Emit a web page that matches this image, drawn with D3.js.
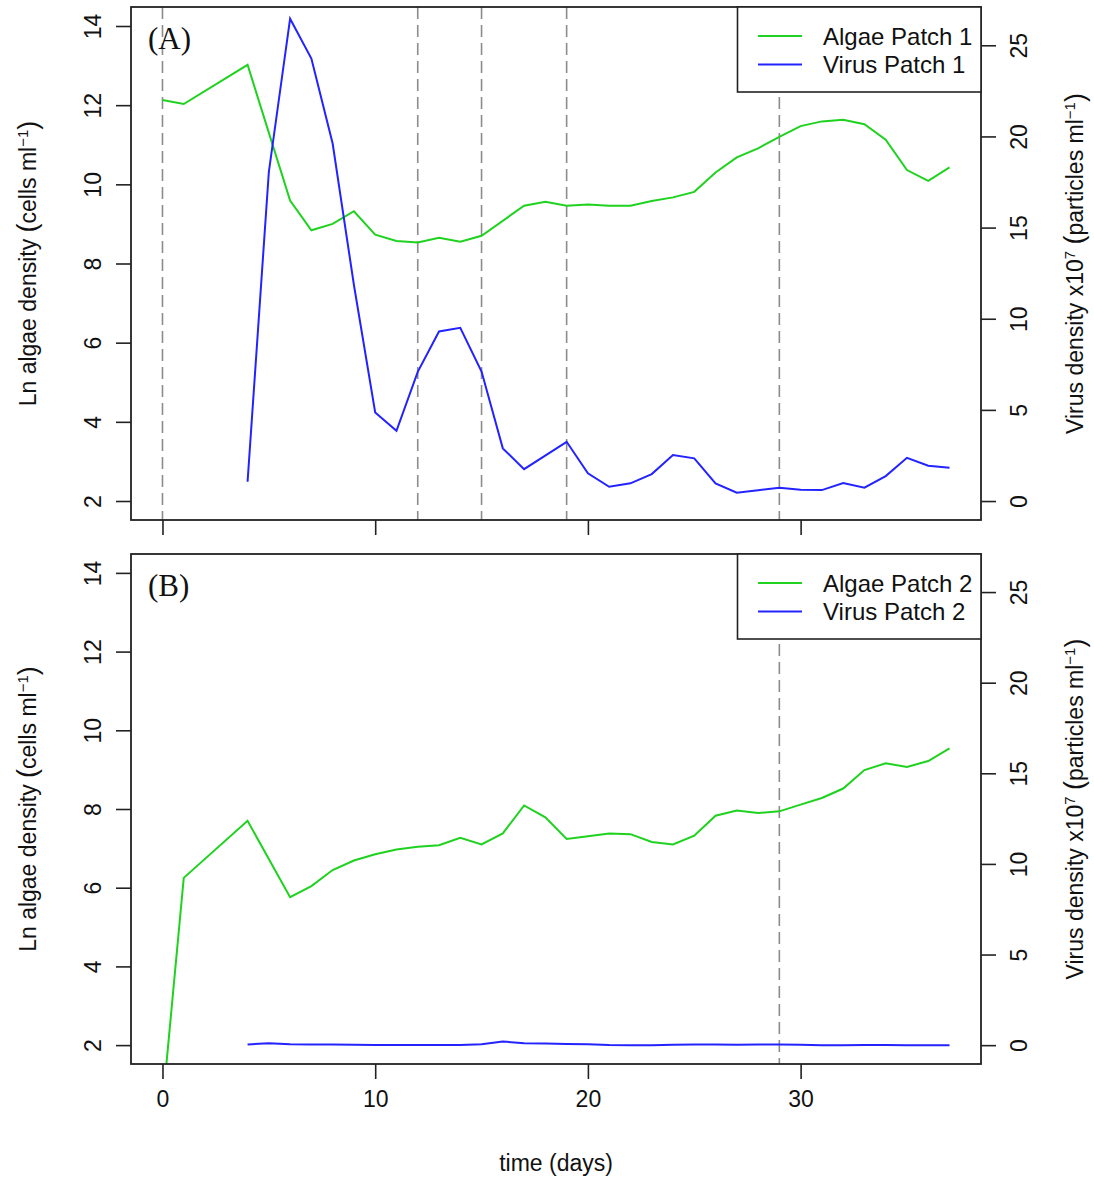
<!DOCTYPE html>
<html><head><meta charset="utf-8">
<script src="https://cdn.jsdelivr.net/npm/d3@7"></script>
<style>
body{margin:0;background:#fff}
svg{display:block}
text{font-family:"Liberation Sans",Arial,Helvetica,sans-serif;fill:#111}
</style>
</head><body>
<svg id="chart" width="1094" height="1182"></svg>
<script>
// ---------- data ----------
const xTicks = [0, 10, 20, 30];
const leftTicks = [2, 4, 6, 8, 10, 12, 14];
const rightTicks = [0, 5, 10, 15, 20, 25];

// Panel A (patch 1)
const algae1Days   = [0, 1, 4, 6, 7, 8, 9, 10, 11, 12, 13, 14, 15, 17, 18, 19, 20, 21, 22, 23, 24, 25, 26, 27, 28, 29, 30, 31, 32, 33, 34, 35, 36, 37];
const algae1Values = [12.13, 12.03, 13.02, 9.59, 8.84, 9.0, 9.32, 8.73, 8.57, 8.53, 8.65, 8.55, 8.70, 9.46, 9.56, 9.46, 9.49, 9.46, 9.46, 9.58, 9.67, 9.81, 10.30, 10.68, 10.91, 11.20, 11.47, 11.59, 11.63, 11.52, 11.13, 10.36, 10.09, 10.43];
const virus1Days   = [4, 5, 6, 7, 8, 9, 10, 11, 12, 13, 14, 15, 16, 17, 19, 20, 21, 22, 23, 24, 25, 26, 27, 28, 29, 30, 31, 32, 33, 34, 35, 36, 37];
const virus1Values = [1.06, 18.05, 26.46, 24.27, 19.61, 11.85, 4.86, 3.85, 7.09, 9.30, 9.50, 7.10, 2.89, 1.75, 3.25, 1.52, 0.78, 0.97, 1.48, 2.52, 2.34, 0.97, 0.46, 0.59, 0.73, 0.62, 0.60, 0.99, 0.73, 1.37, 2.37, 1.94, 1.83];

// Panel B (patch 2)
const algae2Days   = [0, 1, 4, 6, 7, 8, 9, 10, 11, 12, 13, 14, 15, 16, 17, 18, 19, 20, 21, 22, 23, 24, 25, 26, 27, 28, 29, 30, 31, 32, 33, 34, 35, 36, 37];
const algae2Values = [0.45, 6.25, 7.70, 5.76, 6.04, 6.45, 6.69, 6.85, 6.97, 7.04, 7.08, 7.27, 7.10, 7.38, 8.09, 7.79, 7.24, 7.31, 7.38, 7.36, 7.16, 7.10, 7.32, 7.83, 7.96, 7.90, 7.94, 8.11, 8.28, 8.52, 8.99, 9.16, 9.07, 9.22, 9.54];
const virus2Days   = [4, 5, 6, 7, 8, 9, 10, 11, 12, 13, 14, 15, 16, 17, 18, 19, 20, 21, 22, 23, 24, 25, 26, 27, 28, 29, 30, 31, 32, 33, 34, 35, 36, 37];
const virus2Values = [0.04, 0.11, 0.05, 0.03, 0.03, 0.02, 0.01, 0.01, 0.01, 0.01, 0.01, 0.05, 0.20, 0.11, 0.09, 0.06, 0.05, 0.01, 0.0, 0.0, 0.02, 0.03, 0.03, 0.02, 0.03, 0.04, 0.02, 0.0, 0.0, 0.01, 0.01, 0.0, 0.0, 0.0];

const eventsA = [0, 12, 15, 19, 29];
const eventsB = [29];
const legendA = ["Algae Patch 1", "Virus Patch 1"];
const legendB = ["Algae Patch 2", "Virus Patch 2"];
const panelLabels = ["(A)", "(B)"];

// ---------- drawing ----------
const svg = d3.select("#chart");
const L = 131, R = 981;
const GREEN = "#1fd21f", BLUE = "#2323ff";
const FS = 23;

const x = d3.scaleLinear().domain([-1.48, 38.48]).range([L, R]);

function zip(days, vals){ return days.map((d,i)=>({d, v: vals[i]})); }

function panel(idx, top, bottom, algae, virus, events, legendText, showXLabels){
  const yL = d3.scaleLinear().domain([1.52, 14.48]).range([bottom, top]);
  const yR = d3.scaleLinear().domain([-1.04, 27.1]).range([bottom, top]);
  const g = svg.append("g");

  const clipId = "clip" + idx;
  g.append("clipPath").attr("id", clipId).append("rect")
    .attr("x", L).attr("y", top).attr("width", R - L).attr("height", bottom - top);

  const plot = g.append("g").attr("clip-path", `url(#${clipId})`);

  // event lines
  plot.selectAll("line.ev").data(events).enter().append("line")
    .attr("x1", d => x(d)).attr("x2", d => x(d))
    .attr("y1", top).attr("y2", bottom)
    .attr("stroke", "#8c8c8c").attr("stroke-width", 1.6)
    .attr("stroke-dasharray", "12,6");

  plot.append("path").datum(algae)
    .attr("fill", "none").attr("stroke", GREEN).attr("stroke-width", 2)
    .attr("stroke-linejoin", "miter")
    .attr("d", d3.line().x(p => x(p.d)).y(p => yL(p.v)));

  plot.append("path").datum(virus)
    .attr("fill", "none").attr("stroke", BLUE).attr("stroke-width", 2)
    .attr("d", d3.line().x(p => x(p.d)).y(p => yR(p.v)));

  // left axis
  const ax = g.append("g").attr("transform", `translate(${L},0)`)
    .call(d3.axisLeft(yL).tickValues(leftTicks).tickSize(15).tickSizeOuter(0));
  ax.select(".domain").remove();
  ax.selectAll(".tick line").attr("stroke", "#222").attr("stroke-width", 1.6);
  ax.selectAll(".tick text")
    .attr("x", 0).attr("y", -38).attr("dy", "0.36em")
    .attr("transform", "rotate(-90)").attr("text-anchor", "middle")
    .style("font-size", FS + "px").style("font-family", "'Liberation Sans',Arial,sans-serif").attr("fill", "#111");

  // right axis
  const ar = g.append("g").attr("transform", `translate(${R},0)`)
    .call(d3.axisRight(yR).tickValues(rightTicks).tickSize(15).tickSizeOuter(0));
  ar.select(".domain").remove();
  ar.selectAll(".tick line").attr("stroke", "#222").attr("stroke-width", 1.6);
  ar.selectAll(".tick text")
    .attr("x", 0).attr("y", 38).attr("dy", "0.36em")
    .attr("transform", "rotate(-90)").attr("text-anchor", "middle")
    .style("font-size", FS + "px").style("font-family", "'Liberation Sans',Arial,sans-serif").attr("fill", "#111");

  // bottom axis
  const ab = g.append("g").attr("transform", `translate(0,${bottom})`)
    .call(d3.axisBottom(x).tickValues(xTicks).tickSize(15).tickSizeOuter(0).tickPadding(12)
      .tickFormat(showXLabels ? d3.format("d") : () => ""));
  ab.select(".domain").remove();
  ab.selectAll(".tick line").attr("stroke", "#222").attr("stroke-width", 1.6);
  ab.selectAll(".tick text").style("font-size", FS + "px")
    .style("font-family", "'Liberation Sans',Arial,sans-serif").attr("fill", "#111");

  // frame
  g.append("rect").attr("x", L).attr("y", top).attr("width", R - L).attr("height", bottom - top)
    .attr("fill", "none").attr("stroke", "#222").attr("stroke-width", 1.8);

  // legend
  const lg = g.append("g");
  lg.append("rect").attr("x", 737.5).attr("y", top).attr("width", R - 737.5).attr("height", 85)
    .attr("fill", "#fff").attr("stroke", "#222").attr("stroke-width", 1.6);
  const colors = [GREEN, BLUE];
  legendText.forEach((t, i) => {
    const yy = top + 29 + i * 28.5;
    lg.append("line").attr("x1", 758).attr("x2", 802).attr("y1", yy).attr("y2", yy)
      .attr("stroke", colors[i]).attr("stroke-width", 2);
    lg.append("text").attr("x", 823).attr("y", yy).attr("dy", "0.36em")
      .style("font-size", "24px").text(t);
  });

  // panel label
  g.append("text").attr("x", 148).attr("y", top + 42)
    .style("font-family", "'Liberation Serif','Times New Roman',serif").style("font-size", "31px")
    .text(panelLabels[idx]);

  // axis titles
  const cy = (top + bottom) / 2;
  const lt = g.append("text").attr("transform", `translate(36,${cy}) rotate(-90)`)
    .attr("text-anchor", "middle").style("font-size", FS + "px");
  lt.append("tspan").text("Ln algae density ");
  lt.append("tspan").style("font-size", "27px").text("(");
  lt.append("tspan").text("cells ml");
  lt.append("tspan").attr("dy", "-0.55em").style("font-size", "15px").text("\u22121");
  lt.append("tspan").attr("dy", "0.35em").style("font-size", "27px").text(")");

  const rt = g.append("text").attr("transform", `translate(1083,${cy}) rotate(-90)`)
    .attr("text-anchor", "middle").style("font-size", FS + "px");
  rt.append("tspan").text("Virus density x10");
  rt.append("tspan").attr("dy", "-0.55em").style("font-size", "15px").text("7");
  rt.append("tspan").attr("dy", "0.35em").text(" ");
  rt.append("tspan").style("font-size", "27px").text("(");
  rt.append("tspan").text("particles ml");
  rt.append("tspan").attr("dy", "-0.55em").style("font-size", "15px").text("\u22121");
  rt.append("tspan").attr("dy", "0.35em").style("font-size", "27px").text(")");
}

panel(0, 7, 520, zip(algae1Days, algae1Values), zip(virus1Days, virus1Values), eventsA, legendA, false);
panel(1, 554, 1064, zip(algae2Days, algae2Values), zip(virus2Days, virus2Values), eventsB, legendB, true);

svg.append("text").attr("x", x(18.5)).attr("y", 1171).attr("text-anchor", "middle")
  .style("font-size", FS + "px").text("time (days)");
</script>
</body></html>
